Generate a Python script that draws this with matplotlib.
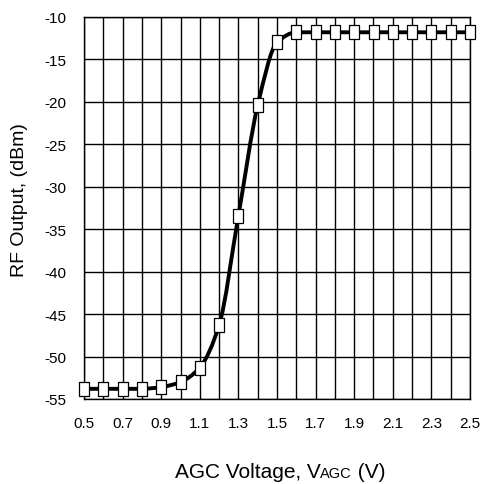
import matplotlib
matplotlib.use("Agg")
import matplotlib.pyplot as plt
from matplotlib.path import Path
from matplotlib.patches import PathPatch
import numpy as np

plt.rcParams['font.family'] = ['Liberation Sans', 'DejaVu Sans']

vagc = [0.5, 0.6, 0.7, 0.8, 0.9, 1.0, 1.1, 1.2, 1.3, 1.4, 1.5, 1.6, 1.7, 1.8, 1.9,
        2.0, 2.1, 2.2, 2.3, 2.4, 2.5]
rf_out = [-53.8, -53.8, -53.8, -53.8, -53.6, -53.0, -51.3, -46.3, -33.4, -20.4, -13.0,
          -11.8, -11.8, -11.8, -11.8, -11.8, -11.8, -11.8, -11.8, -11.8, -11.8]
xtick_labels = ['0.5', '0.7', '0.9', '1.1', '1.3', '1.5', '1.7', '1.9', '2.1', '2.3', '2.5']
ytick_labels = ['-55', '-50', '-45', '-40', '-35', '-30', '-25', '-20', '-15', '-10']

fig = plt.figure(figsize=(4.8, 4.85), dpi=100)
ax = fig.add_axes([84/480, 1-400/485, (470-84)/480, (400-18)/485])

ax.set_xlim(0.5, 2.5)
ax.set_ylim(-55, -10)
ax.set_xticks(np.arange(0.5, 2.51, 0.1), minor=True)
ax.set_xticks([float(t) for t in xtick_labels])
ax.set_xticklabels(xtick_labels)
ax.set_yticks([float(t) for t in ytick_labels])
ax.set_yticklabels(ytick_labels)
ax.grid(True, which='both', axis='x', color='black', linewidth=1.0)
ax.grid(True, which='major', axis='y', color='black', linewidth=1.0)
ax.tick_params(which='both', length=0, labelsize=11)
ax.tick_params(axis='x', pad=12)
ax.tick_params(axis='y', pad=13)
for s in ax.spines.values():
    s.set_linewidth(1.0)
    s.set_color('black')

# smooth monotone curve through the data points (Fritsch-Carlson tangents)
x = np.asarray(vagc, float)
y = np.asarray(rf_out, float)
h = np.diff(x)
d = np.diff(y) / h
m = np.zeros_like(y)
m[0], m[-1] = d[0], d[-1]
for i in range(1, len(y) - 1):
    if d[i-1] * d[i] <= 0:
        m[i] = 0.0
    else:
        w1 = 2*h[i] + h[i-1]
        w2 = h[i] + 2*h[i-1]
        m[i] = (w1 + w2) / (w1 / d[i-1] + w2 / d[i])
verts = [(x[0], y[0])]
codes = [Path.MOVETO]
for i in range(len(x) - 1):
    verts += [(x[i] + h[i]/3, y[i] + m[i]*h[i]/3),
              (x[i+1] - h[i]/3, y[i+1] - m[i+1]*h[i]/3),
              (x[i+1], y[i+1])]
    codes += [Path.CURVE4] * 3
ax.add_patch(PathPatch(Path(verts, codes), facecolor='none', edgecolor='black',
                       linewidth=2.8, clip_on=False, zorder=4))

rect = [(-0.36, -0.5), (0.36, -0.5), (0.36, 0.5), (-0.36, 0.5), (-0.36, -0.5)]
ax.plot(vagc, rf_out, linestyle='none', marker=rect, markersize=10,
        markerfacecolor='white', markeredgecolor='black', markeredgewidth=0.9,
        clip_on=False, zorder=5)

fig.text(20/480, 1-200/485, 'RF Output, (dBm)', fontsize=14, rotation=90,
         ha='center', va='center')

# x label with small-caps style "AGC" after V
fig.canvas.draw()
r = fig.canvas.get_renderer()
parts = [('AGC Voltage, V', 15), ('AGC', 10.5), (' (V)', 15)]
texts = []
widths = []
for s, fs in parts:
    t = fig.text(0, 0, s, fontsize=fs, ha='left', va='baseline')
    widths.append(t.get_window_extent(r).width)
    texts.append(t)
total = sum(widths)
x0 = 280 - total / 2
ybase = 1 - 478/485
for t, w in zip(texts, widths):
    t.set_position((x0/480, ybase))
    x0 += w

fig.savefig('out.png', dpi=100)
